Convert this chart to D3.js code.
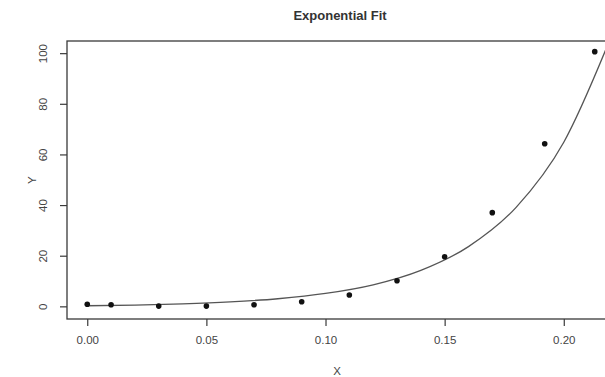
<!DOCTYPE html>
<html>
<head>
<meta charset="utf-8">
<script src="https://cdn.jsdelivr.net/npm/d3@7"></script>
<style>
  body { margin: 0; background: #fff; }
  text { font-family: "Liberation Sans", Arial, sans-serif; }
</style>
</head>
<body>
<svg id="chart"></svg>
<script>
// observed points
const xVals = [0, 0.01, 0.03, 0.05, 0.07, 0.09, 0.11, 0.13, 0.15, 0.17, 0.192, 0.213];
const yVals = [1.0, 0.8, 0.3, 0.3, 0.8, 2.0, 4.7, 10.3, 19.8, 37.2, 64.4, 100.8];

// fitted curve
const fitX = [0, 0.02, 0.04, 0.06, 0.08, 0.10, 0.12, 0.14, 0.16, 0.18, 0.20, 0.22];
const fitY = [0.43, 0.71, 1.18, 1.95, 3.2, 5.3, 8.7, 14.4, 23.8, 39.3, 65, 107];

const xTicks = [0, 0.05, 0.10, 0.15, 0.20];
const yTicks = [0, 20, 40, 60, 80, 100];

const width = 605, height = 377;
const box = { left: 67, top: 41, right: 615, bottom: 319 };

const svg = d3.select('#chart')
  .attr('width', width)
  .attr('height', height);

const x = d3.scaleLinear()
  .domain([-0.0085, 0.2215])
  .range([box.left, box.right]);

const y = d3.scaleLinear()
  .domain([-4.8, 105])
  .range([box.bottom, box.top]);

svg.append('defs').append('clipPath')
  .attr('id', 'plotClip')
  .append('rect')
  .attr('x', box.left)
  .attr('y', box.top)
  .attr('width', box.right - box.left)
  .attr('height', box.bottom - box.top);

// frame
svg.append('rect')
  .attr('x', box.left)
  .attr('y', box.top)
  .attr('width', box.right - box.left)
  .attr('height', box.bottom - box.top)
  .attr('fill', 'none')
  .attr('stroke', '#3a3a3a')
  .attr('stroke-width', 1.3);

// x axis
const xAxis = svg.append('g')
  .attr('transform', `translate(0,${box.bottom})`)
  .call(d3.axisBottom(x).tickValues(xTicks).tickFormat(d3.format('.2f')).tickSize(7).tickPadding(10));
xAxis.select('.domain').remove();
xAxis.selectAll('line').attr('stroke', '#3a3a3a').attr('stroke-width', 1.2);
xAxis.selectAll('text')
  .attr('font-size', 11.5)
  .attr('fill', '#444')
  .attr('font-family', '"Liberation Sans", Arial, sans-serif');

// y axis
const yAxis = svg.append('g')
  .attr('transform', `translate(${box.left},0)`)
  .call(d3.axisLeft(y).tickValues(yTicks).tickSize(7).tickPadding(0));
yAxis.select('.domain').remove();
yAxis.selectAll('line').attr('stroke', '#3a3a3a').attr('stroke-width', 1.2);
yAxis.selectAll('text')
  .attr('x', null)
  .attr('dy', null)
  .attr('text-anchor', 'middle')
  .attr('transform', d => `translate(-24,${y(d)}) rotate(-90)`)
  .attr('y', 0)
  .attr('font-size', 11.5)
  .attr('fill', '#444')
  .attr('font-family', '"Liberation Sans", Arial, sans-serif');
yAxis.selectAll('.tick').attr('transform', null);
yAxis.selectAll('.tick line').attr('transform', d => `translate(0,${y(d)})`);
yAxis.selectAll('.tick text').attr('dy', '0.35em');

// fitted curve
const fit = fitX.map((v, i) => ({ x: v, y: fitY[i] }));
const line = d3.line()
  .x(d => x(d.x))
  .y(d => y(d.y))
  .curve(d3.curveMonotoneX);

svg.append('path')
  .datum(fit)
  .attr('clip-path', 'url(#plotClip)')
  .attr('fill', 'none')
  .attr('stroke', '#555')
  .attr('stroke-width', 1.3)
  .attr('d', line);

// points
svg.append('g')
  .selectAll('circle')
  .data(xVals.map((v, i) => ({ x: v, y: yVals[i] })))
  .join('circle')
  .attr('cx', d => x(d.x))
  .attr('cy', d => y(d.y))
  .attr('r', 2.8)
  .attr('fill', '#111');

// titles
svg.append('text')
  .attr('x', 340)
  .attr('y', 20)
  .attr('text-anchor', 'middle')
  .attr('font-size', 13)
  .attr('font-weight', 'bold')
  .attr('fill', '#333')
  .text('Exponential Fit');

svg.append('text')
  .attr('x', 337)
  .attr('y', 375)
  .attr('text-anchor', 'middle')
  .attr('font-size', 11.5)
  .attr('fill', '#444')
  .text('X');

svg.append('text')
  .attr('transform', `translate(36,${(y(40) + y(60)) / 2}) rotate(-90)`)
  .attr('text-anchor', 'middle')
  .attr('font-size', 11.5)
  .attr('fill', '#444')
  .text('Y');
</script>
</body>
</html>
